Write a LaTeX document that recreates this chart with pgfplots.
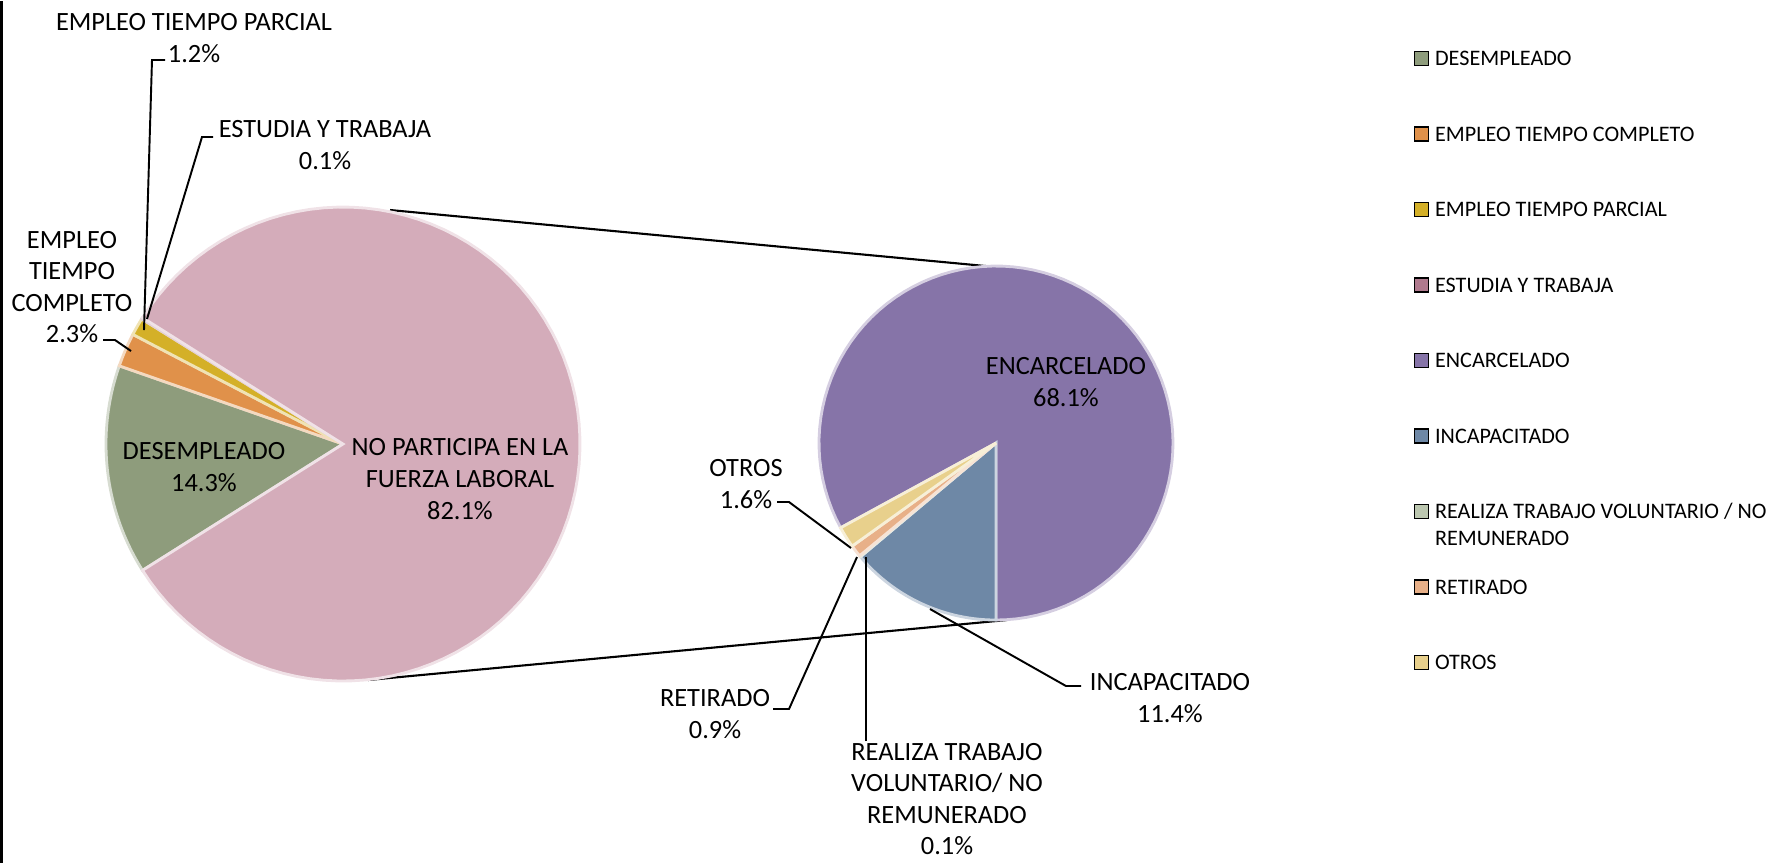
\documentclass[border=0pt]{standalone}
\usepackage{fontspec}
\setmainfont{Carlito}
\usepackage{pgfplots}
\usepackage{pgfplotstable}
\pgfplotsset{compat=1.18}

\definecolor{cDes}{RGB}{142,156,124}
\definecolor{cCom}{RGB}{224,145,74}
\definecolor{cPar}{RGB}{212,176,40}
\definecolor{cEst}{RGB}{176,122,142}
\definecolor{cNop}{RGB}{212,172,186}
\definecolor{cEnc}{RGB}{134,116,168}
\definecolor{cInc}{RGB}{110,136,166}
\definecolor{cRea}{RGB}{188,199,176}
\definecolor{cRet}{RGB}{232,176,136}
\definecolor{cOtr}{RGB}{232,208,140}

\tikzset{lab/.style={font=\fontsize{7.5}{9}\selectfont, align=center, inner sep=0pt}}

% shares in percent of the total
\pgfplotstableread[col sep=comma]{
share,color
14.3,cDes
2.3,cCom
1.2,cPar
0.1,cEst
82.1,cNop
}\leftpie
\pgfplotstableread[col sep=comma]{
share,color
68.1,cEnc
11.4,cInc
0.1,cRea
0.9,cRet
1.6,cOtr
}\rightpie

% #1 table, #2 cx, #3 cy, #4 radius, #5 start angle, #6 degrees per percent
\def\pieslices#1#2#3#4#5#6{%
  \xdef\pstart{#5}%
  \pgfplotsforeachungrouped \i in {0,1,2,3,4}{%
    \pgfplotstablegetelem{\i}{share}\of#1\let\pshare\pgfplotsretval
    \pgfplotstablegetelem{\i}{color}\of#1\let\pcol\pgfplotsretval
    \pgfmathsetmacro\pend{\pstart-#6*\pshare}%
    \edef\cmd{\noexpand\addplot[fill=\pcol, draw=\pcol!35!white, line width=0.8pt,
      domain=\pend:\pstart, samples=90, forget plot]
      ({#2+#4*cos(x)},{#3-#4*sin(x)}) -- (axis cs:#2,#3) -- cycle;}%
    \cmd
    \xdef\pstart{\pend}%
  }%
}

\begin{document}
\begin{tikzpicture}
\begin{axis}[
  width=17.75cm, height=8.64cm, scale only axis,
  xmin=0, xmax=1775, ymin=0, ymax=864, y dir=reverse,
  hide axis, clip=false,
  legend image code/.code={\fill[#1] (0cm,-0.07cm) rectangle (0.14cm,0.07cm);},
  legend cell align=left,
  legend style={at={(axis cs:1413,50)}, anchor=north west, draw=none, fill=none,
    inner sep=0pt, row sep=0.601cm, column sep=0pt,
    font=\fontsize{6.3}{7.7}\selectfont,
    nodes={inner sep=0pt, inner xsep=0.06cm, text height=0.143cm, text depth=0pt}},
]
\path (axis cs:0,0) (axis cs:1775,864);
% frame line on the left
\addplot[black, line width=0.6pt, forget plot] coordinates {(1.5,1.2) (1.5,862.8)};
% connector lines between the two pies
\addplot[black, line width=0.6pt, forget plot] coordinates {(390,210) (996,267)};
\addplot[black, line width=0.6pt, forget plot] coordinates {(368,680) (1007,620)};

\pieslices{\leftpie}{343}{444}{237}{212.22}{3.6}
\pieslices{\rightpie}{996}{443}{177}{208.61}{4.38490}

% leader lines
\addplot[black, line width=0.55pt, forget plot] coordinates {(165,60) (152,60) (144,330)};
\addplot[black, line width=0.55pt, forget plot] coordinates {(213,137) (202,137) (147,319)};
\addplot[black, line width=0.55pt, forget plot] coordinates {(103,340) (115,340) (131,351)};
\addplot[black, line width=0.55pt, forget plot] coordinates {(777,502) (789,502) (851,548)};
\addplot[black, line width=0.55pt, forget plot] coordinates {(773,709) (789,709) (857,557)};
\addplot[black, line width=0.55pt, forget plot] coordinates {(866,741) (866,557)};
\addplot[black, line width=0.55pt, forget plot] coordinates {(1081,686) (1066,686) (930,609)};

% data labels
\node[lab] at (axis cs:194,38) {EMPLEO TIEMPO PARCIAL\\1.2\%};
\node[lab] at (axis cs:325,145) {ESTUDIA Y TRABAJA\\0.1\%};
\node[lab] at (axis cs:72,287) {EMPLEO\\TIEMPO\\COMPLETO\\2.3\%};
\node[lab] at (axis cs:204,467) {DESEMPLEADO\\14.3\%};
\node[lab] at (axis cs:460,479) {NO PARTICIPA EN LA\\FUERZA LABORAL\\82.1\%};
\node[lab] at (axis cs:1066,382) {ENCARCELADO\\68.1\%};
\node[lab] at (axis cs:746,484) {OTROS\\1.6\%};
\node[lab] at (axis cs:715,714) {RETIRADO\\0.9\%};
\node[lab] at (axis cs:947,799) {REALIZA TRABAJO\\VOLUNTARIO/ NO\\REMUNERADO\\0.1\%};
\node[lab] at (axis cs:1170,698) {INCAPACITADO\\11.4\%};

% legend
\addlegendimage{fill=cDes}\addlegendentry{DESEMPLEADO}
\addlegendimage{fill=cCom}\addlegendentry{EMPLEO TIEMPO COMPLETO}
\addlegendimage{fill=cPar}\addlegendentry{EMPLEO TIEMPO PARCIAL}
\addlegendimage{fill=cEst}\addlegendentry{ESTUDIA Y TRABAJA}
\addlegendimage{fill=cEnc}\addlegendentry{ENCARCELADO}
\addlegendimage{fill=cInc}\addlegendentry{INCAPACITADO}
\addlegendimage{fill=cRea}\addlegendentry{\smash{\begin{tabular}[t]{@{}l@{}}REALIZA TRABAJO VOLUNTARIO / NO\\REMUNERADO\end{tabular}}}
\addlegendimage{fill=cRet}\addlegendentry{RETIRADO}
\addlegendimage{fill=cOtr}\addlegendentry{OTROS}
\end{axis}
\end{tikzpicture}
\end{document}
